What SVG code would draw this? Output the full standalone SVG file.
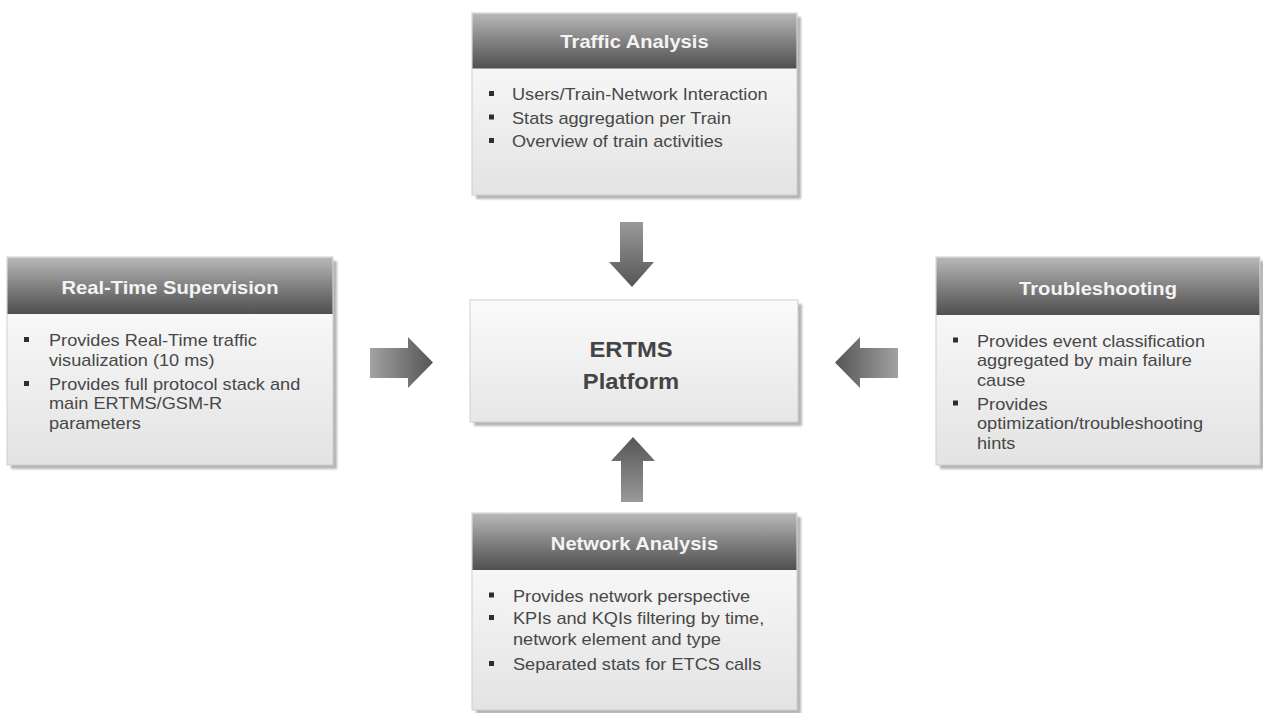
<svg xmlns="http://www.w3.org/2000/svg" width="1263" height="713" viewBox="0 0 1263 713">
  <defs>
    <linearGradient id="hdr" x1="0" y1="0" x2="0" y2="1">
      <stop offset="0" stop-color="#b8b8b8"/>
      <stop offset="0.45" stop-color="#878787"/>
      <stop offset="1" stop-color="#4f4f4f"/>
    </linearGradient>
    <linearGradient id="body" x1="0" y1="0" x2="0" y2="1">
      <stop offset="0" stop-color="#ffffff"/>
      <stop offset="1" stop-color="#e3e3e3"/>
    </linearGradient>
    <linearGradient id="core" x1="0" y1="0" x2="0" y2="1">
      <stop offset="0" stop-color="#fbfbfb"/>
      <stop offset="1" stop-color="#e6e6e6"/>
    </linearGradient>
    <linearGradient id="arrR" x1="0" y1="0" x2="1" y2="0">
      <stop offset="0" stop-color="#a2a2a2"/>
      <stop offset="1" stop-color="#555555"/>
    </linearGradient>
    <linearGradient id="arrL" x1="1" y1="0" x2="0" y2="0">
      <stop offset="0" stop-color="#a2a2a2"/>
      <stop offset="1" stop-color="#555555"/>
    </linearGradient>
    <linearGradient id="arrD" x1="0" y1="0" x2="0" y2="1">
      <stop offset="0" stop-color="#9a9a9a"/>
      <stop offset="1" stop-color="#555555"/>
    </linearGradient>
    <linearGradient id="arrU" x1="0" y1="1" x2="0" y2="0">
      <stop offset="0" stop-color="#9a9a9a"/>
      <stop offset="1" stop-color="#555555"/>
    </linearGradient>
    <filter id="soft" x="-5%" y="-5%" width="110%" height="110%">
      <feGaussianBlur stdDeviation="1.2"/>
    </filter>
  </defs>
  <style>
    .shadow { fill: #b5b5b5; filter: url(#soft); }
    .frame { fill: url(#body); stroke: #cfcfcf; stroke-width: 1; }
    .head { fill: url(#hdr); }
    .title { font-family: "Liberation Sans", Arial, sans-serif; font-weight: bold; font-size: 18px; fill: #f4f4f4; text-anchor: middle; }
    .item { font-family: "Liberation Sans", Arial, sans-serif; font-size: 16px; fill: #474747; }
    .dot { fill: #2e2e2e; }
    .core { font-family: "Liberation Sans", Arial, sans-serif; font-weight: bold; font-size: 22px; fill: #444444; text-anchor: middle; }
  </style>

  <!-- Traffic Analysis -->
  <g id="traffic-analysis">
    <rect class="shadow" x="476" y="17" width="325" height="182"/>
    <rect class="frame" x="472" y="13" width="325" height="182"/>
    <rect class="head" x="472.5" y="13.5" width="324" height="55"/>
    <g transform="translate(634.5,0) scale(1.12,1)"><text class="title" x="0" y="48.5">Traffic Analysis</text></g>
    <rect class="dot" x="489" y="91" width="5" height="5"/>
    <rect class="dot" x="489" y="114.5" width="5" height="5"/>
    <rect class="dot" x="489" y="138" width="5" height="5"/>
    <g transform="translate(512,0) scale(1.135,1)">
      <text class="item" x="0" y="100.5">Users/Train-Network Interaction</text>
      <text class="item" x="0" y="124">Stats aggregation per Train</text>
      <text class="item" x="0" y="147.5">Overview of train activities</text>
    </g>
  </g>

  <!-- Real-Time Supervision -->
  <g id="real-time-supervision">
    <rect class="shadow" x="11" y="261" width="326" height="208"/>
    <rect class="frame" x="7" y="257" width="326" height="208"/>
    <rect class="head" x="7.5" y="257.5" width="325" height="56.5"/>
    <g transform="translate(170,0) scale(1.12,1)"><text class="title" x="0" y="294.5">Real-Time Supervision</text></g>
    <rect class="dot" x="24" y="337" width="5" height="5"/>
    <rect class="dot" x="24" y="381" width="5" height="5"/>
    <g transform="translate(49,0) scale(1.135,1)">
      <text class="item" x="0" y="346.5">Provides Real-Time traffic</text>
      <text class="item" x="0" y="366.5">visualization (10 ms)</text>
      <text class="item" x="0" y="390">Provides full protocol stack and</text>
      <text class="item" x="0" y="409.5">main ERTMS/GSM-R</text>
      <text class="item" x="0" y="429">parameters</text>
    </g>
  </g>

  <!-- Troubleshooting -->
  <g id="troubleshooting">
    <rect class="shadow" x="940" y="261" width="324" height="208"/>
    <rect class="frame" x="936" y="257" width="324" height="208"/>
    <rect class="head" x="936.5" y="257.5" width="323" height="57.5"/>
    <g transform="translate(1098,0) scale(1.12,1)"><text class="title" x="0" y="295.5">Troubleshooting</text></g>
    <rect class="dot" x="953" y="337.5" width="5" height="5"/>
    <rect class="dot" x="953" y="400.5" width="5" height="5"/>
    <g transform="translate(977,0) scale(1.135,1)">
      <text class="item" x="0" y="347">Provides event classification</text>
      <text class="item" x="0" y="366.5">aggregated by main failure</text>
      <text class="item" x="0" y="386">cause</text>
      <text class="item" x="0" y="410">Provides</text>
      <text class="item" x="0" y="429.5">optimization/troubleshooting</text>
      <text class="item" x="0" y="449">hints</text>
    </g>
  </g>

  <!-- Network Analysis -->
  <g id="network-analysis">
    <rect class="shadow" x="476" y="517" width="325" height="197"/>
    <rect class="frame" x="472" y="513" width="325" height="197"/>
    <rect class="head" x="472.5" y="513.5" width="324" height="56.5"/>
    <g transform="translate(634.5,0) scale(1.12,1)"><text class="title" x="0" y="550.5">Network Analysis</text></g>
    <rect class="dot" x="489" y="592.5" width="5" height="5"/>
    <rect class="dot" x="489" y="615" width="5" height="5"/>
    <rect class="dot" x="489" y="661" width="5" height="5"/>
    <g transform="translate(513,0) scale(1.135,1)">
      <text class="item" x="0" y="602">Provides network perspective</text>
      <text class="item" x="0" y="624.5">KPIs and KQIs filtering by time,</text>
      <text class="item" x="0" y="645">network element and type</text>
      <text class="item" x="0" y="670.5">Separated stats for ETCS calls</text>
    </g>
  </g>

  <!-- ERTMS Platform -->
  <g id="ertms-platform">
    <rect class="shadow" x="474" y="304" width="328" height="122"/>
    <rect x="470" y="300" width="328" height="122" fill="url(#core)" stroke="#cfcfcf" stroke-width="1"/>
    <g transform="translate(631,0) scale(1.08,1)">
      <text class="core" x="0" y="357">ERTMS</text>
      <text class="core" x="0" y="389">Platform</text>
    </g>
  </g>

  <!-- Block arrows pointing into the platform -->
  <g id="connectors">
    <polygon fill="url(#arrD)" points="620,222 643,222 643,262 654,262 632,287 609,262 620,262"/>
    <polygon fill="url(#arrU)" points="621,502 643,502 643,461 655,461 633,437 611,461 621,461"/>
    <polygon fill="url(#arrR)" points="370,348 408,348 408,337 433,362.5 408,388 408,378 370,378"/>
    <polygon fill="url(#arrL)" points="898,348 860,348 860,337 835,362.5 860,388 860,378 898,378"/>
  </g>
</svg>
